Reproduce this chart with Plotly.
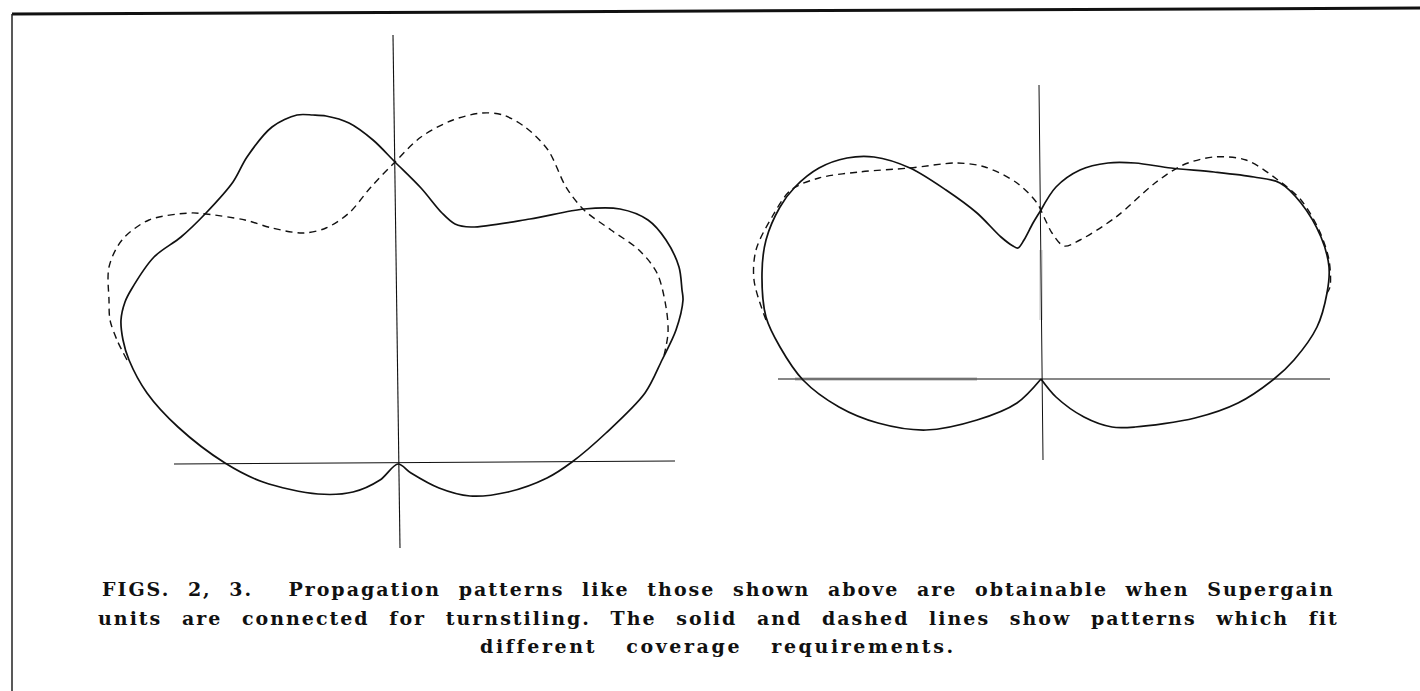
import plotly.graph_objects as go

# Fig. 2 (left pattern) – offsets from the axis crossing, y up
fig2_solid_x = [0, -18, -45, -80, -135, -173, -220, -251, -269, -275, -277, -273, -267, -244, -217,
                -192, -165, -151, -126, -101, -85, -72, -49, -25, -3, 23, 44, 57, 73, 132, 186, 222,
                250, 268, 281, 284, 285, 278, 264, 247, 208, 174, 149, 110, 72, 41, 13, 0]
fig2_solid_y = [0, -16, -28, -30, -18, 1, 37, 71, 104, 124, 144, 162, 174, 207, 227,
                251, 282, 307, 337, 349, 349, 348, 341, 324, 302, 276, 251, 240, 237, 245, 255, 255,
                244, 224, 197, 174, 164, 134, 104, 71, 31, 2, -14, -28, -32, -24, -9, 0]
fig2_dash_x = [-271, -281, -288, -289, -289, -276, -249, -208, -192, -153, -126, -95, -72, -49, -27,
               -3, 23, 55, 84, 105, 127, 150, 168, 186, 213, 241, 259, 268, 270, 265]
fig2_dash_y = [104, 124, 144, 164, 197, 224, 244, 251, 250, 244, 236, 231, 236, 251, 277,
               302, 327, 344, 351, 349, 337, 314, 277, 254, 234, 214, 191, 157, 131, 104]
fig2_hline = ([-224, 277], [0, 3])
fig2_vline = ([-5, 2], [429, -84])

# Fig. 3 (right pattern)
fig3_solid_x = [0, -24, -64, -115, -163, -202, -238, -261, -275, -279, -275, -261, -246, -222, -194,
                -167, -131, -95, -64, -40, -28, -23, -17, -8, 0, None,
                0, 15, 39, 67, 94, 130, 173, 213, 239, 260, 280, 288, 286, 276, 253, 233, 197, 154,
                94, 71, 43, 15, 0]
fig3_solid_y = [0, -24, -41, -51, -44, -28, -1, 32, 62, 106, 139, 172, 192, 211, 221,
                222, 211, 189, 166, 142, 133, 131, 139, 156, 169, None,
                169, 192, 209, 216, 216, 211, 207, 202, 196, 176, 142, 112, 86, 52, 19, 0, -24, -39,
                -48, -48, -38, -18, 0]
fig3_dash_x = [-275, -287, -285, -269, -250, -222, -182, -131, -84, -56, -24, -4, 3, 11, 23,
               39, 75, 114, 142, 173, 205, 237, 260, 278, 288, 289, 286]
fig3_dash_y = [59, 99, 129, 162, 189, 201, 207, 211, 216, 212, 196, 176, 162, 146, 133,
               139, 162, 196, 214, 222, 219, 199, 179, 149, 119, 92, 86]
fig3_hline = ([-263, 289], [0, 0])
fig3_vline = ([-2, 2], [294, -81])
fig3_smudge_h = ([-246, -64], [0, 0])
fig3_smudge_v = ([0, 0], [129, 59])

caption = [
    "FIGS. 2, 3.  Propagation patterns like those shown above are obtainable when Supergain",
    "units are connected for turnstiling. The solid and dashed lines show patterns which fit",
    "different coverage requirements.",
]

W, H = 1420, 691
fig = go.Figure()


def line(x, y, xa, ya, width=1.6, dash="solid", color="#111111", shape="spline"):
    fig.add_trace(go.Scatter(
        x=x, y=y, xaxis=xa, yaxis=ya, mode="lines",
        line=dict(color=color, width=width, dash=dash, shape=shape, smoothing=0.9),
        hoverinfo="skip", showlegend=False, connectgaps=False,
    ))


# left figure
line(*fig2_hline, "x", "y", width=1.1, shape="linear")
line(*fig2_vline, "x", "y", width=1.1, shape="linear")
line(fig2_dash_x, fig2_dash_y, "x", "y", width=1.4, dash="7px,5px")
line(fig2_solid_x, fig2_solid_y, "x", "y", width=1.7)

# right figure
line(*fig3_smudge_h, "x2", "y2", width=4, color="#d4d4d4", shape="linear")
line(*fig3_smudge_v, "x2", "y2", width=4, color="#e0e0e0", shape="linear")
line(*fig3_hline, "x2", "y2", width=1.1, shape="linear")
line(*fig3_vline, "x2", "y2", width=1.0, shape="linear")
line(fig3_dash_x, fig3_dash_y, "x2", "y2", width=1.4, dash="7px,5px")
line(fig3_solid_x, fig3_solid_y, "x2", "y2", width=1.7)

ax = dict(visible=False, showgrid=False, zeroline=False, fixedrange=True)
fig.update_layout(
    width=W, height=H,
    margin=dict(l=0, r=0, t=0, b=0),
    paper_bgcolor="white", plot_bgcolor="white",
    hovermode=False,
    xaxis=dict(ax, domain=[0, 0.5], range=[-398, 312]),
    yaxis=dict(ax, domain=[0, 1], range=[-227, 464]),
    xaxis2=dict(ax, domain=[0.5, 1], range=[-331, 379]),
    yaxis2=dict(ax, domain=[0, 1], range=[-312, 379], anchor="x2"),
)

# page frame: heavy rule along the top, thin rule down the left
fig.add_shape(type="line", xref="paper", yref="paper",
              x0=12 / W, y0=1 - 14 / H, x1=1, y1=1 - 8 / H,
              line=dict(color="#111111", width=3))
fig.add_shape(type="line", xref="paper", yref="paper",
              x0=12 / W, y0=1 - 14 / H, x1=12 / W, y1=0,
              line=dict(color="#222222", width=1.5))

spacing = ["letter-spacing:2px;word-spacing:9px", "letter-spacing:2px;word-spacing:11px",
           "letter-spacing:2.6px;word-spacing:20px"]
for i, (txt, sp) in enumerate(zip(caption, spacing)):
    fig.add_annotation(
        x=718 / W, y=1 - (589 + 28.5 * i) / H, xref="paper", yref="paper",
        xanchor="center", yanchor="middle", showarrow=False,
        text=f'<span style="{sp}">{txt}</span>',
        font=dict(family="DejaVu Serif", size=19, color="#111111", weight="bold"),
    )

fig.write_html("out.html", config={"displayModeBar": False},
               post_script="document.body.style.margin='0';")
